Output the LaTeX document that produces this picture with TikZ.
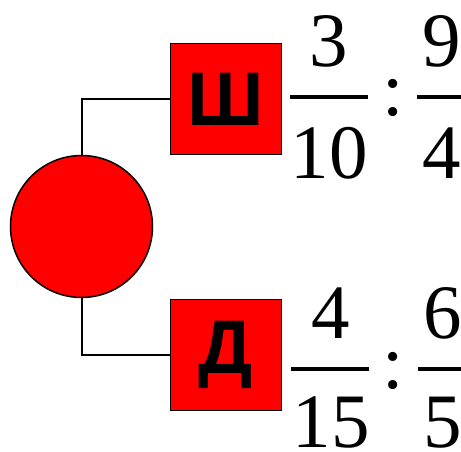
\documentclass[tikz,border=0pt]{standalone}
\usepackage{fontspec}
\newfontfamily\numfont{Liberation Serif}
\newfontfamily\capfont{Liberation Sans}
\begin{document}
\begin{tikzpicture}[x=1pt,y=-1pt,
  box/.style={draw,line width=1.5pt,fill=red,minimum size=111pt,inner sep=0pt,
    font=\capfont\bfseries\fontsize{76}{80}\selectfont},
  num/.style={anchor=base,inner sep=0pt,font=\numfont\fontsize{77}{80}\selectfont},
  bar/.style={line width=3.5pt}]
\useasboundingbox(0,0)rectangle(461,452);
\node[circle,draw,line width=1.5pt,fill=red,minimum size=142pt,inner sep=0pt](ball)at(81.5,226.5){};
\node[box](sh)at(226,99){Ш};
\node[box](de)at(226,355){Д};
\draw[line width=2pt](ball.north)|-(sh.west);
\draw[line width=2pt](ball.south)|-(de.west);

\node[num](a1)at(329,67){3};
\node[num](a2)at(329,178){10};
\draw[bar](290,97)--(368,97);
\node[num](c1)at(393,116){:};
\node[num](b1)at(442,67){9};
\node[num](b2)at(442,178){4};
\draw[bar](417,97)--(466,97);

\node[num](d1)at(331,338){4};
\node[num](d2)at(331,447){15};
\draw[bar](291,369)--(369,369);
\node[num](c2)at(393,388){:};
\node[num](e1)at(443,338){6};
\node[num](e2)at(443,447){5};
\draw[bar](418,369)--(466,369);
\end{tikzpicture}
\end{document}
